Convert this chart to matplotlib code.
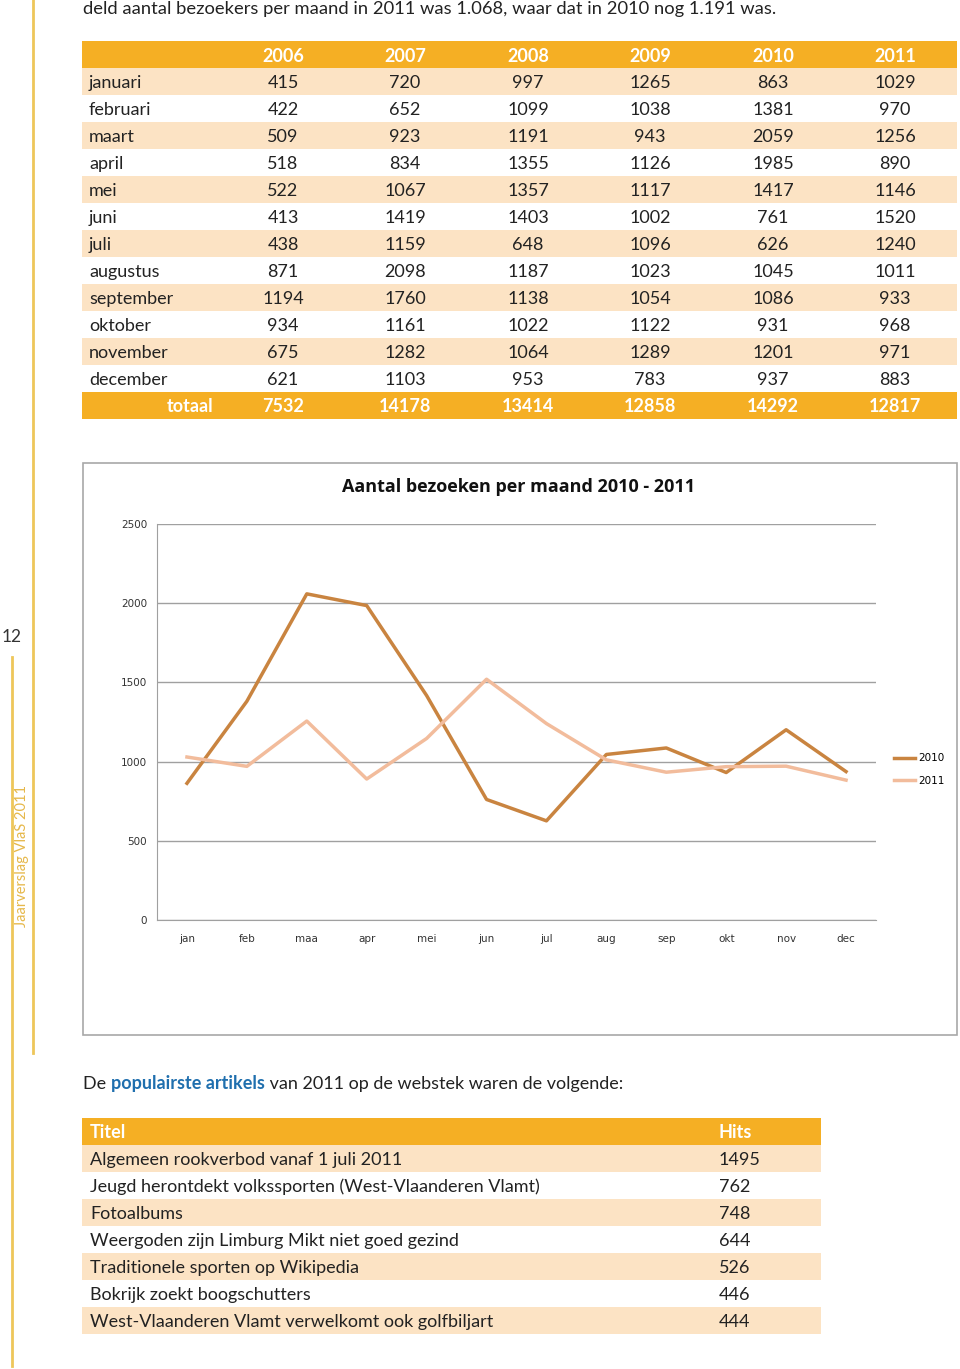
import matplotlib.pyplot as plt
from matplotlib.patches import Rectangle

# --- data ---
years = ['2006', '2007', '2008', '2009', '2010', '2011']
months = ['januari', 'februari', 'maart', 'april', 'mei', 'juni', 'juli',
          'augustus', 'september', 'oktober', 'november', 'december']
v2006 = [415, 422, 509, 518, 522, 413, 438, 871, 1194, 934, 675, 621]
v2007 = [720, 652, 923, 834, 1067, 1419, 1159, 2098, 1760, 1161, 1282, 1103]
v2008 = [997, 1099, 1191, 1355, 1357, 1403, 648, 1187, 1138, 1022, 1064, 953]
v2009 = [1265, 1038, 943, 1126, 1117, 1002, 1096, 1023, 1054, 1122, 1289, 783]
v2010 = [863, 1381, 2059, 1985, 1417, 761, 626, 1045, 1086, 931, 1201, 937]
v2011 = [1029, 970, 1256, 890, 1146, 1520, 1240, 1011, 933, 968, 971, 883]
totals = [7532, 14178, 13414, 12858, 14292, 12817]

month_short = ['jan', 'feb', 'maa', 'apr', 'mei', 'jun', 'jul', 'aug', 'sep', 'okt', 'nov', 'dec']

titles = ['Algemeen rookverbod vanaf 1 juli 2011',
          'Jeugd herontdekt volkssporten (West-Vlaanderen Vlamt)',
          'Fotoalbums',
          'Weergoden zijn Limburg Mikt niet goed gezind',
          'Traditionele sporten op Wikipedia',
          'Bokrijk zoekt boogschutters',
          'West-Vlaanderen Vlamt verwelkomt ook golfbiljart']
hits = [1495, 762, 748, 644, 526, 446, 444]

orange = '#F5AF24'
light = '#FCE3C4'
gold = '#EEC65A'
font = 'Lato'
fs = 13

fig = plt.figure(figsize=(9.6, 13.69), dpi=100)
page = fig.add_axes([0, 0, 1, 1])
page.set_xlim(0, 960)
page.set_ylim(1369, 0)
page.axis('off')

# side decoration
page.plot([33, 33], [0, 1053], color=gold, lw=2)
page.plot([12, 12], [657, 1366], color=gold, lw=2)
page.text(12, 637, '12', ha='center', va='center', fontsize=12.5, family=font, color='#333333')
page.text(22, 856, 'Jaarverslag VlaS 2011', rotation=90, ha='center', va='center',
          fontsize=10.5, family=font, color='#E6B84A')

# intro line
page.text(83, 9, 'deld aantal bezoekers per maand in 2011 was 1.068, waar dat in 2010 nog 1.191 was.',
          ha='left', va='center', fontsize=13.2, family=font, color='#222222')

# --- visitors table ---
col_x = [283, 405, 528, 650, 773, 895]
row_h = 27
top = 41
dy = 1.5
page.add_patch(Rectangle((82, top), 875, row_h, color=orange, lw=0))
for j, y in enumerate(years):
    page.text(col_x[j], top + row_h / 2 + dy, y, ha='center', va='center', fontsize=fs,
              family=font, weight='bold', color='white')
cols = [v2006, v2007, v2008, v2009, v2010, v2011]
for i, m in enumerate(months):
    y0 = top + row_h * (i + 1)
    if i % 2 == 0:
        page.add_patch(Rectangle((82, y0), 875, row_h, color=light, lw=0))
    page.text(89, y0 + row_h / 2 + dy, m, ha='left', va='center', fontsize=fs, family=font, color='#222222')
    for j in range(len(years)):
        page.text(col_x[j], y0 + row_h / 2 + dy, str(cols[j][i]), ha='center', va='center',
                  fontsize=fs, family=font, color='#222222')
y0 = top + row_h * 13
page.add_patch(Rectangle((82, y0), 875, row_h, color=orange, lw=0))
page.text(213, y0 + row_h / 2 + dy, 'totaal', ha='right', va='center', fontsize=fs,
          family=font, weight='bold', color='white')
for j, t in enumerate(totals):
    page.text(col_x[j], y0 + row_h / 2 + dy, str(t), ha='center', va='center', fontsize=fs,
              family=font, weight='bold', color='white')

# --- chart ---
page.add_patch(Rectangle((83, 463), 874, 572, fill=False, edgecolor='#A8A8A8', lw=1.2))
page.text(519, 487, 'Aantal bezoeken per maand 2010 - 2011', ha='center', va='center',
          fontsize=13, weight='bold', family='Open Sans', color='#111111')

ax = fig.add_axes([157 / 960, (1369 - 920) / 1369, 719 / 960, 396 / 1369])
x = range(len(month_short))
ax.plot(x, v2010, color='#C98440', lw=2.5, label='2010')
ax.plot(x, v2011, color='#F2BC9C', lw=2.5, label='2011')
ax.set_xlim(-0.5, 11.5)
ax.set_ylim(0, 2500)
ax.set_yticks([0, 500, 1000, 1500, 2000, 2500])
ax.set_xticks(list(x))
ax.set_xticklabels(month_short)
ax.yaxis.grid(True, color='#A0A0A0', lw=1)
ax.set_axisbelow(True)
for s in ['top', 'right']:
    ax.spines[s].set_visible(False)
ax.spines['left'].set_color('#A0A0A0')
ax.spines['bottom'].set_color('#A0A0A0')
ax.tick_params(length=0, labelsize=7.5, colors='#333333', pad=10)
ax.tick_params(axis='y', pad=7)
ax.legend(loc='center left', bbox_to_anchor=(1.012, 0.38), frameon=False,
          fontsize=7.5, handlelength=2.0, handletextpad=0.35, labelspacing=1.2)

# --- popular articles ---
t0 = page.text(83, 1084, 'De ', ha='left', va='center', fontsize=fs, family=font, color='#222222')
t1 = page.annotate('populairste artikels', xy=(1, 0.5), xycoords=t0, ha='left', va='center',
                   fontsize=fs, family=font, weight='bold', color='#1F6FAE')
page.annotate(' van 2011 op de webstek waren de volgende:', xy=(1, 0.5), xycoords=t1,
              ha='left', va='center', fontsize=fs, family=font, color='#222222')

top2 = 1118
page.add_patch(Rectangle((82, top2), 739, row_h, color=orange, lw=0))
page.text(90, top2 + row_h / 2 + dy, 'Titel', ha='left', va='center', fontsize=fs,
          family=font, weight='bold', color='white')
page.text(719, top2 + row_h / 2 + dy, 'Hits', ha='left', va='center', fontsize=fs,
          family=font, weight='bold', color='white')
for i, (t, h) in enumerate(zip(titles, hits)):
    y0 = top2 + row_h * (i + 1)
    if i % 2 == 0:
        page.add_patch(Rectangle((82, y0), 739, row_h, color=light, lw=0))
    page.text(90, y0 + row_h / 2 + dy, t, ha='left', va='center', fontsize=fs, family=font, color='#222222')
    page.text(719, y0 + row_h / 2 + dy, str(h), ha='left', va='center', fontsize=fs, family=font, color='#222222')

fig.savefig('out.png', dpi=100)
